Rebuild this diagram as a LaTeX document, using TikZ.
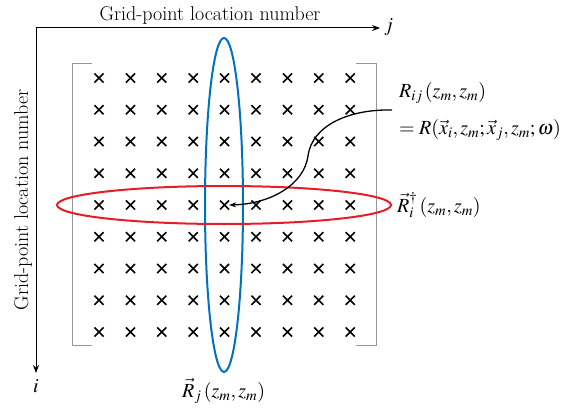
\documentclass[tikz,border=0pt]{standalone}
\usepackage{mathptmx}
\usetikzlibrary{arrows.meta,shapes.misc}
\definecolor{ellblue}{RGB}{0,112,192}
\definecolor{ellred}{RGB}{232,28,36}
\definecolor{brk}{RGB}{150,150,150}
\begin{document}
\begin{tikzpicture}[x=1pt,y=-1pt,
  lbl/.style={inner sep=0pt,font=\fontsize{20}{24}\selectfont},
  xmark/.style={draw,cross out,minimum size=7.5pt,inner sep=0pt,line width=1.6pt},
  axis/.style={line width=1pt,-{Stealth[length=8pt,width=6pt]}},
  bracket/.style={draw=brk,line width=1pt},
  ell/.style={line width=2pt}]
\useasboundingbox (0,0) rectangle (568,412);
% axes
\coordinate (O) at (36,28);
\coordinate (J) at (380,28);
\coordinate (I) at (36,373);
\draw[axis] (O) -- (J);
\draw[axis] (O) -- (I);
\node[lbl,anchor=west] (jl) at (384,27) {$j$};
\node[lbl] (il) at (36,386) {$i$};
\node[lbl] (top) at (210,15) {Grid-point location number};
\node[lbl,rotate=90] (left) at (23,200) {Grid-point location number};
% brackets
\draw[bracket] (92,64) -- (72,64) -- (72,345) -- (92,345);
\draw[bracket] (356,64) -- (376,64) -- (376,345) -- (356,345);
% crosses
\foreach \r in {0,...,8}{
  \foreach \c in {0,...,8}{
    \node[xmark] (c\r\c) at ({99+31.4*\c},{78+31.75*\r}) {};
  }
}
% ellipses
\draw[ell,ellblue] (224,205) ellipse [x radius=19, y radius=167];
\draw[ell,ellred] (224,205) ellipse [x radius=167, y radius=19];
% curved arrow
\coordinate (as) at (392,110);
\coordinate (mid) at (308,156);
\draw[line width=1.3pt,-{Stealth[length=7pt,width=5pt]}] (as) .. controls (350,109) and (312,125) .. (mid) .. controls (304,185) and (270,204) .. (c44.east);
% labels
\node[lbl,anchor=base west] (rij) at (399,98) {$R_{ij}\,(z_m, z_m)$};
\node[lbl,anchor=base west] (req) at (399,134) {$= R(\vec{x}_i, z_m; \vec{x}_j, z_m; \omega)$};
\node[lbl,anchor=base west] (ri) at (397,212) {$\vec{R}_i^{\dagger}\,(z_m, z_m)$};
\node[lbl,anchor=base west] (rj) at (182,397) {$\vec{R}_j\,(z_m, z_m)$};
\end{tikzpicture}
\end{document}
